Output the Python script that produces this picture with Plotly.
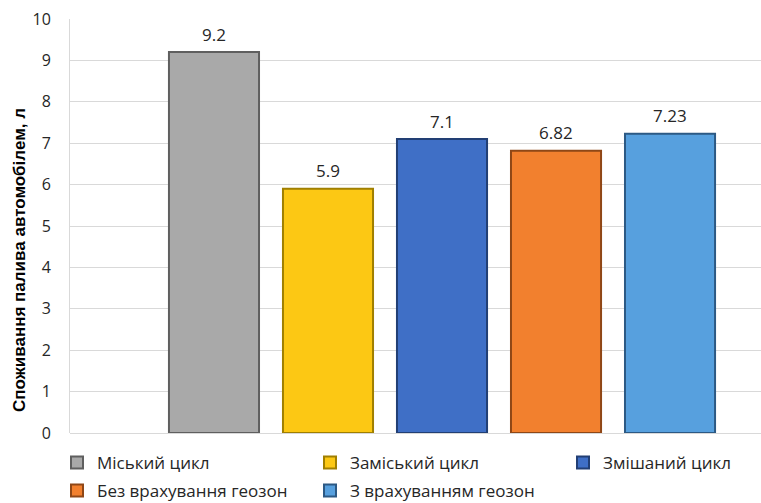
import plotly.graph_objects as go

series_names = ["Міський цикл", "Заміський цикл", "Змішаний цикл",
                "Без врахування геозон", "З врахуванням геозон"]
values = [9.2, 5.9, 7.1, 6.82, 7.23]
value_labels = ["9.2", "5.9", "7.1", "6.82", "7.23"]
legend_rows = ["legend", "legend", "legend", "legend2", "legend2"]
fill_colors = ["#a9a9a9", "#fcc814", "#3f6fc6", "#f2802e", "#57a0de"]
edge_colors = ["#5f5f5f", "#a07f00", "#223f74", "#8f4716", "#2c5984"]
y_ticks = [0, 1, 2, 3, 4, 5, 6, 7, 8, 9, 10]

FONT = "Open Sans"
W, H = 761, 503
ML, MR, MT, MB = 70, 0, 19, 70
PW, PH = W - ML - MR, H - MT - MB

fig = go.Figure()
annotations = []
for i, (name, v, lab, fc, ec, lg) in enumerate(zip(series_names, values, value_labels,
                                                   fill_colors, edge_colors, legend_rows)):
    fig.add_trace(go.Bar(
        x=[i + 1], y=[v], name=name, legend=lg,
        width=0.79,
        marker=dict(color=fc, line=dict(color=ec, width=2)),
        hoverinfo="skip",
    ))
    annotations.append(dict(
        x=i + 1, y=v, xref="x", yref="y", text=lab, showarrow=False,
        yanchor="middle", yshift=18,
        font=dict(family=FONT, size=17, color="#262626"),
    ))

annotations.append(dict(
    text="<b>Споживання палива автомобілем, л</b>",
    textangle=-90, xref="paper", yref="paper",
    x=(19 - ML) / PW, y=(MT + PH - 260) / PH, xanchor="center", yanchor="middle",
    showarrow=False, font=dict(family="Liberation Sans", size=17, color="#000000"),
))

legend_common = dict(
    orientation="h", xanchor="left", yanchor="middle",
    entrywidth=208, entrywidthmode="pixels",
    font=dict(family=FONT, size=17, color="#262626"),
    traceorder="normal", itemwidth=30, bgcolor="rgba(0,0,0,0)",
)

fig.update_layout(
    width=W, height=H,
    margin=dict(l=ML, r=MR, t=MT, b=MB, autoexpand=False),
    paper_bgcolor="white", plot_bgcolor="white",
    barmode="overlay",
    showlegend=True,
    legend=dict(x=(57 - ML) / PW, y=(MT + PH - 463) / PH, **legend_common),
    legend2=dict(x=(57 - ML) / PW, y=(MT + PH - 491) / PH, **legend_common),
    xaxis=dict(range=[-0.263, 5.798], showticklabels=False, showgrid=False,
               zeroline=False, showline=False, fixedrange=True),
    yaxis=dict(range=[0, 10], tickvals=y_ticks, ticktext=[str(t) for t in y_ticks],
               showgrid=True, gridcolor="#d9d9d9", gridwidth=1,
               showline=True, linecolor="#d9d9d9", linewidth=1,
               zeroline=True, zerolinecolor="#d9d9d9", zerolinewidth=1,
               ticks="", ticklabelstandoff=15,
               tickfont=dict(family=FONT, size=16, color="#262626")),
    annotations=annotations,
)

fig.write_html("out.html")
